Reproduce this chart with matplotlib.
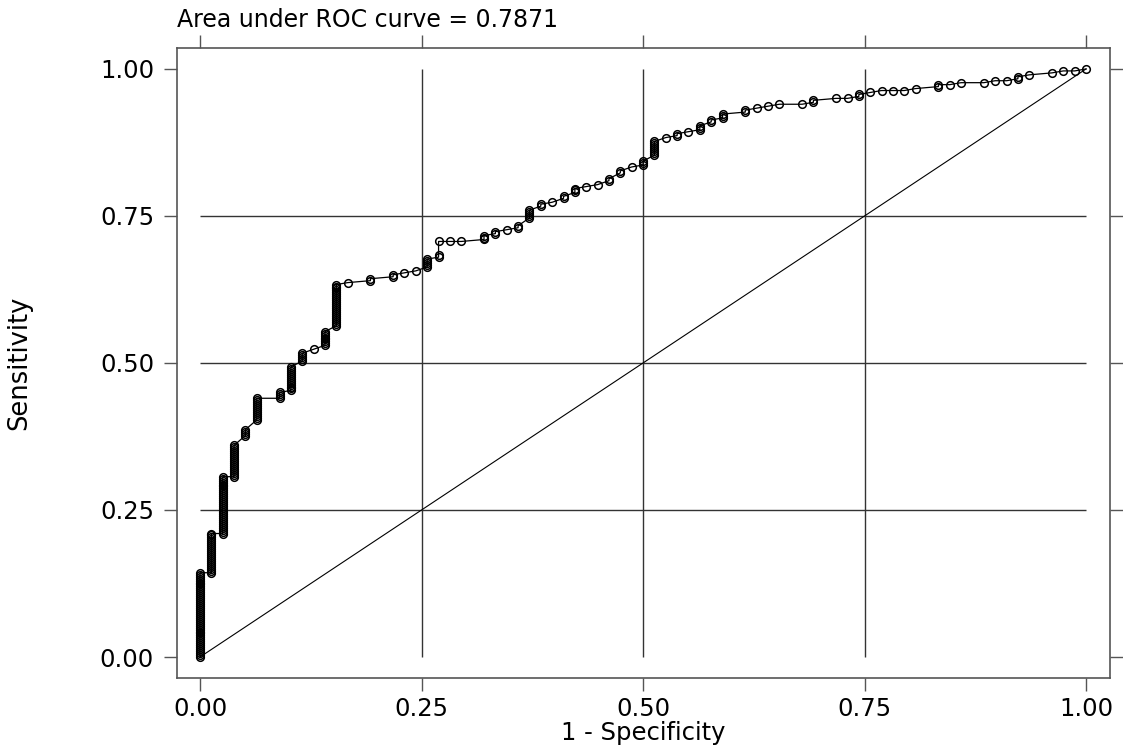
import numpy as np
import matplotlib
matplotlib.use('Agg')
import matplotlib.pyplot as plt

# ROC table: each row is one run of cutoffs in the same column.
# col_neg = negatives classified positive so far (x = col_neg / N_NEG)
# col_lo..col_hi = cumulative positives at successive cutoffs (y = pos / N_POS)
N_NEG = 78
N_POS = 300
col_neg = [0, 1, 2, 3, 4, 5, 7, 8, 9, 10, 11, 12, 13, 15, 17, 18, 19, 20, 21, 21,
           22, 23, 25, 26, 27, 28, 29, 30, 31, 32, 33, 34, 35, 36, 37, 38, 39, 40,
           41, 42, 43, 44, 45, 46, 48, 49, 50, 51, 53, 54, 56, 57, 58, 59, 60, 61,
           62, 63, 65, 66, 67, 69, 70, 71, 72, 73, 75, 76, 77, 78]
col_lo = [0, 43, 63, 92, 113, 121, 132, 136, 151, 157, 159, 169, 191, 192, 194, 196,
          197, 199, 204, 212, 212, 212, 213, 216, 218, 219, 224, 230, 232, 234, 237,
          240, 241, 243, 247, 250, 251, 256, 265, 266, 268, 269, 273, 275, 278, 280,
          281, 282, 282, 283, 285, 285, 286, 288, 289, 289, 289, 290, 291, 292, 293,
          293, 294, 294, 295, 297, 298, 299, 299, 300]
col_hi = [43, 63, 92, 108, 116, 132, 135, 148, 155, 157, 166, 190, 191, 193, 195, 196,
          197, 203, 205, 212, 212, 212, 215, 217, 218, 220, 228, 231, 232, 235, 239,
          240, 241, 244, 248, 250, 253, 263, 265, 267, 268, 271, 274, 277, 279, 280,
          281, 282, 282, 284, 285, 285, 287, 288, 289, 289, 289, 290, 292, 292, 293,
          293, 294, 294, 296, 297, 298, 299, 299, 300]

auc_text = 'Area under ROC curve = 0.7871'
grid_at = [0.25, 0.5, 0.75]
tick_vals = [0, 0.25, 0.5, 0.75, 1.0]
tick_labels = ['0.00', '0.25', '0.50', '0.75', '1.00']

fpr, tpr = [], []
for k, lo, hi in zip(col_neg, col_lo, col_hi):
    for p in range(lo, hi + 1):
        fpr.append(k / N_NEG)
        tpr.append(p / N_POS)

fig = plt.figure(figsize=(11.23, 7.53), dpi=100)
ax = fig.add_axes([0.1576, 0.0996, 0.8308, 0.8367])
frame_col = '#555555'
grid_col = '#333333'

ax.hlines(grid_at, 0, 1, color=grid_col, linewidth=1.0, zorder=1)
ax.vlines(grid_at, 0, 1, color=grid_col, linewidth=1.0, zorder=1)
ax.plot([0, 1], [0, 1], color='black', linewidth=0.8, zorder=2)
ax.plot(fpr, tpr, color='black', linewidth=0.9, marker='o', markersize=5.5,
        markerfacecolor='none', markeredgecolor='black', markeredgewidth=1.1,
        zorder=3)

ax.set_xlim(-0.026, 1.027)
ax.set_ylim(-0.0357, 1.0357)
ax.set_xticks(tick_vals)
ax.set_xticklabels(tick_labels)
ax.set_yticks(tick_vals)
ax.set_yticklabels(tick_labels)
ax.tick_params(axis='both', which='both', direction='out', length=9.5,
               width=1.0, color=frame_col, labelsize=17.5,
               top=True, right=True, labeltop=False, labelright=False)
ax.tick_params(axis='x', pad=4)
ax.tick_params(axis='y', pad=7)
for sp in ax.spines.values():
    sp.set_color(frame_col)
    sp.set_linewidth(1.2)

ax.set_xlabel('1 - Specificity', fontsize=17.5, labelpad=0)
ax.set_ylabel('Sensitivity', fontsize=18.5)
ax.yaxis.set_label_coords(-0.155, 0.5)

fig.text(177 / 1123, 1 - 20 / 753, auc_text, fontsize=17, ha='left', va='center')

fig.savefig('out.png', dpi=100)
plt.close(fig)
